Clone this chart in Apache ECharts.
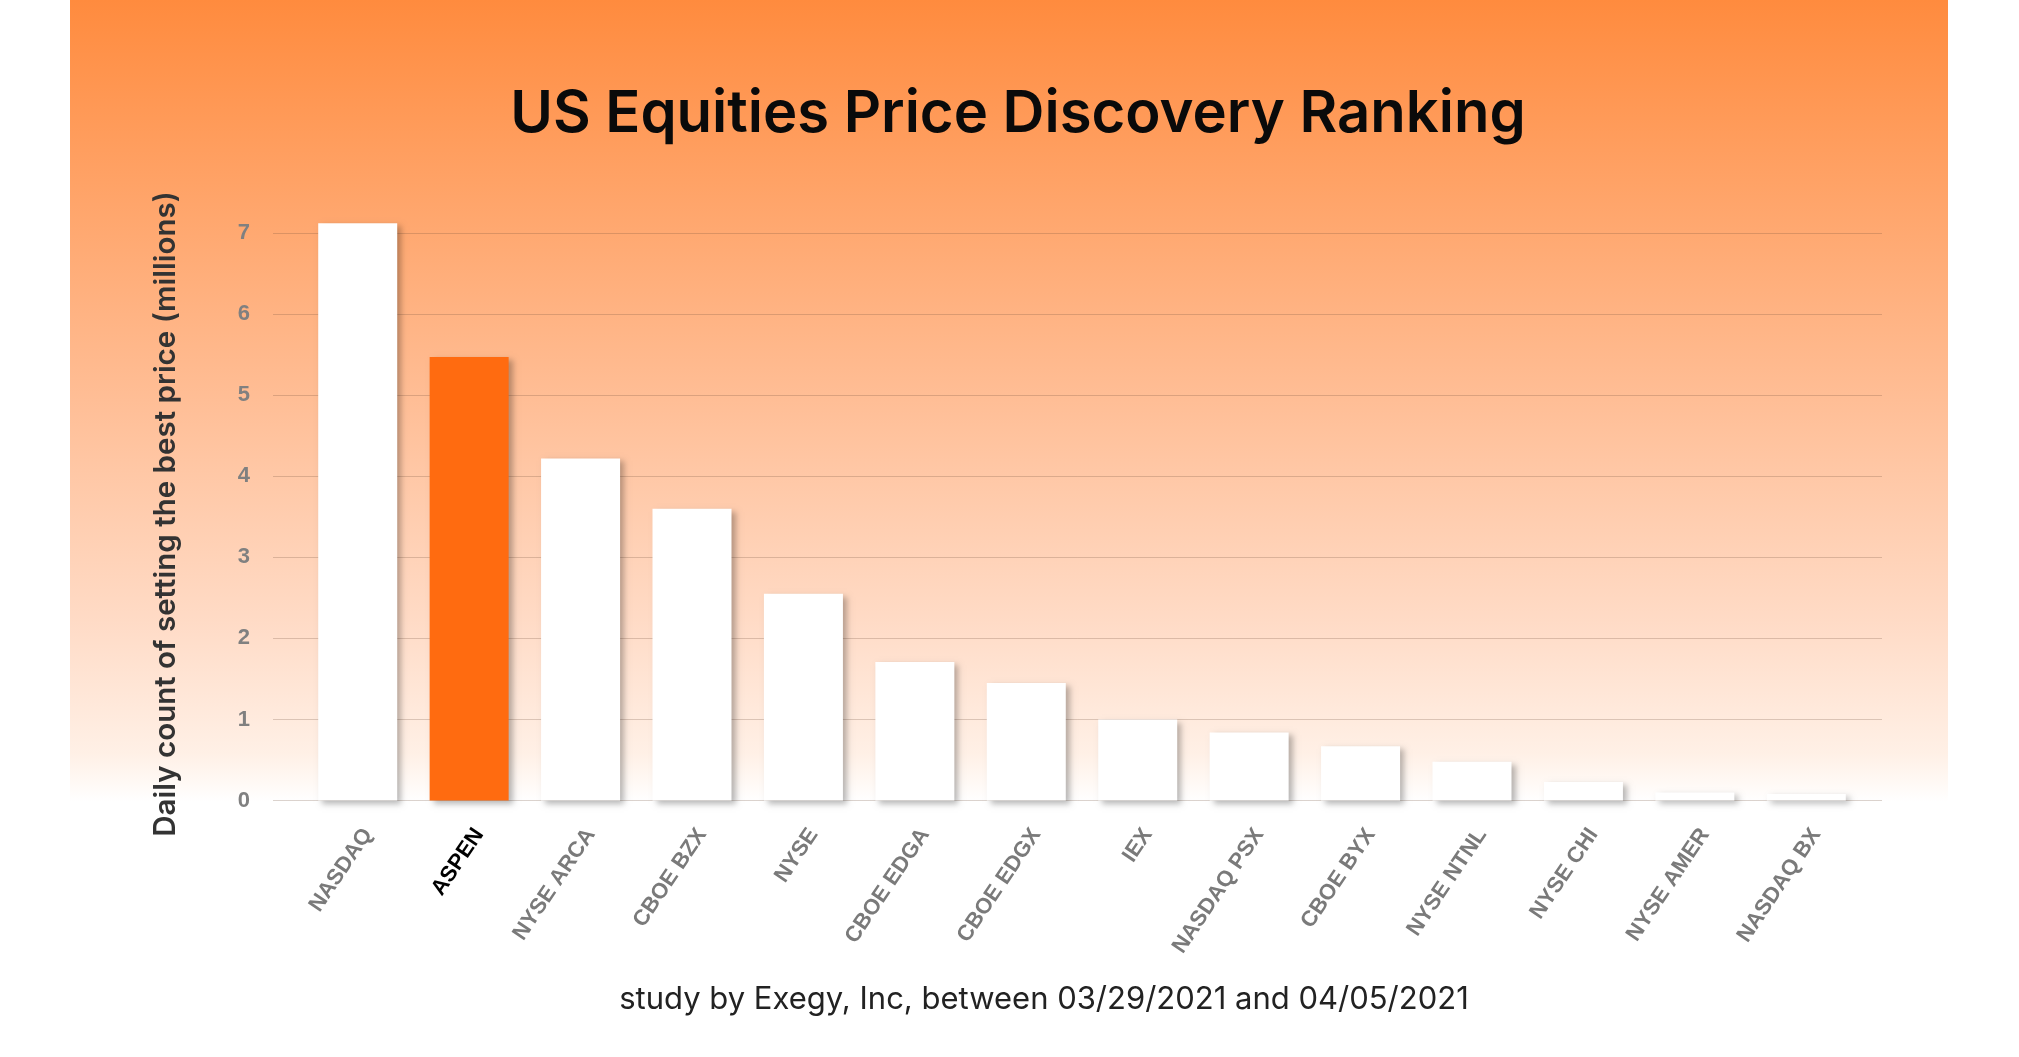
<!DOCTYPE html>
<html>
<head>
<meta charset="utf-8">
<script src="https://cdn.jsdelivr.net/npm/echarts@6/dist/echarts.min.js"></script>
<style>
html,body{margin:0;padding:0;background:#fff;}
#main{width:2019px;height:1057px;}
</style>
</head>
<body>
<div id="main"></div>
<script>
const categories = ['NASDAQ','ASPEN','NYSE ARCA','CBOE BZX','NYSE','CBOE EDGA','CBOE EDGX','IEX','NASDAQ PSX','CBOE BYX','NYSE NTNL','NYSE CHI','NYSE AMER','NASDAQ BX'];
const values = [7.12, 5.47, 4.22, 3.60, 2.55, 1.71, 1.45, 1.00, 0.84, 0.67, 0.48, 0.23, 0.10, 0.08];
const highlight = 'ASPEN';
const yTicks = [0, 7, 1];
const titleText = 'US Equities Price Discovery Ranking';
const yAxisTitle = 'Daily count of setting the best price (millions)';
const footnote = 'study by Exegy, Inc, between 03/29/2021 and 04/05/2021';

const chart = echarts.init(document.getElementById('main'));
const barData = categories.map((c, i) => ({
  value: values[i],
  itemStyle: { color: c === highlight ? '#FF6B10' : '#FFFFFF' }
}));

chart.setOption({
  animation: false,
  graphic: [
    { type: 'rect', z: -100, silent: true,
      shape: { x: 70, y: 0, width: 1878, height: 802 },
      style: { fill: new echarts.graphic.LinearGradient(0, 0, 0, 1, [
        { offset: 0, color: '#FF8B3E' },
        { offset: 0.5, color: '#FFBE96' },
        { offset: 0.775, color: '#FFDBC6' },
        { offset: 0.94, color: '#FFF0E6' },
        { offset: 1, color: '#FFFFFF' }
      ]) } },
    { type: 'text', x: 1018, y: 115, z: 10,
      style: { text: titleText, fill: '#0a0a0a', font: '600 58px Inter', align: 'center', verticalAlign: 'middle' } },
    { type: 'text', x: 166, y: 514, rotation: Math.PI / 2, z: 10,
      style: { text: yAxisTitle, fill: '#333333', font: '600 29.5px Inter', align: 'center', verticalAlign: 'middle' } },
    { type: 'text', x: 1044, y: 1000, z: 10,
      style: { text: footnote, fill: '#222222', font: '400 31px Inter', align: 'center', verticalAlign: 'middle' } }
  ],
  grid: [
    { left: 273, right: 137, top: 233, bottom: 256.4 },
    { left: 302, right: 157, top: 233, bottom: 256.4 },
    { left: 312, right: 147, top: 233, bottom: 256.4 }
  ],
  xAxis: [
    { gridIndex: 0, type: 'value', show: false, min: 0, max: 1 },
    { gridIndex: 1, type: 'category', data: categories,
      axisLine: { show: false }, axisTick: { show: false }, axisLabel: { show: false } },
    { gridIndex: 2, type: 'category', data: categories,
      axisLine: { show: false }, axisTick: { show: false },
      axisLabel: {
        interval: 0, rotate: 56, margin: 30,
        fontFamily: 'Liberation Sans', fontWeight: 'bold', fontSize: 22,
        color: (v) => v === highlight ? '#000000' : '#7a7a7a'
      } }
  ],
  yAxis: [
    { gridIndex: 0, type: 'value', min: yTicks[0], max: yTicks[1], interval: yTicks[2],
      axisLine: { show: false }, axisTick: { show: false },
      axisLabel: { margin: 23, color: '#808080', fontFamily: 'Liberation Sans', fontWeight: 'bold', fontSize: 22 },
      splitLine: { lineStyle: { color: 'rgba(110,80,60,0.25)', width: 1 } } },
    { gridIndex: 1, type: 'value', min: yTicks[0], max: yTicks[1], interval: yTicks[2], show: false,
      splitLine: { show: false } },
    { gridIndex: 2, type: 'value', min: yTicks[0], max: yTicks[1], interval: yTicks[2], show: false,
      splitLine: { show: false } }
  ],
  series: [
    { type: 'bar', xAxisIndex: 1, yAxisIndex: 1, data: barData, barWidth: 79, clip: false,
      itemStyle: { shadowColor: 'rgba(0,0,0,0.28)', shadowBlur: 6, shadowOffsetX: 4, shadowOffsetY: 3 } }
  ]
});
</script>
</body>
</html>
